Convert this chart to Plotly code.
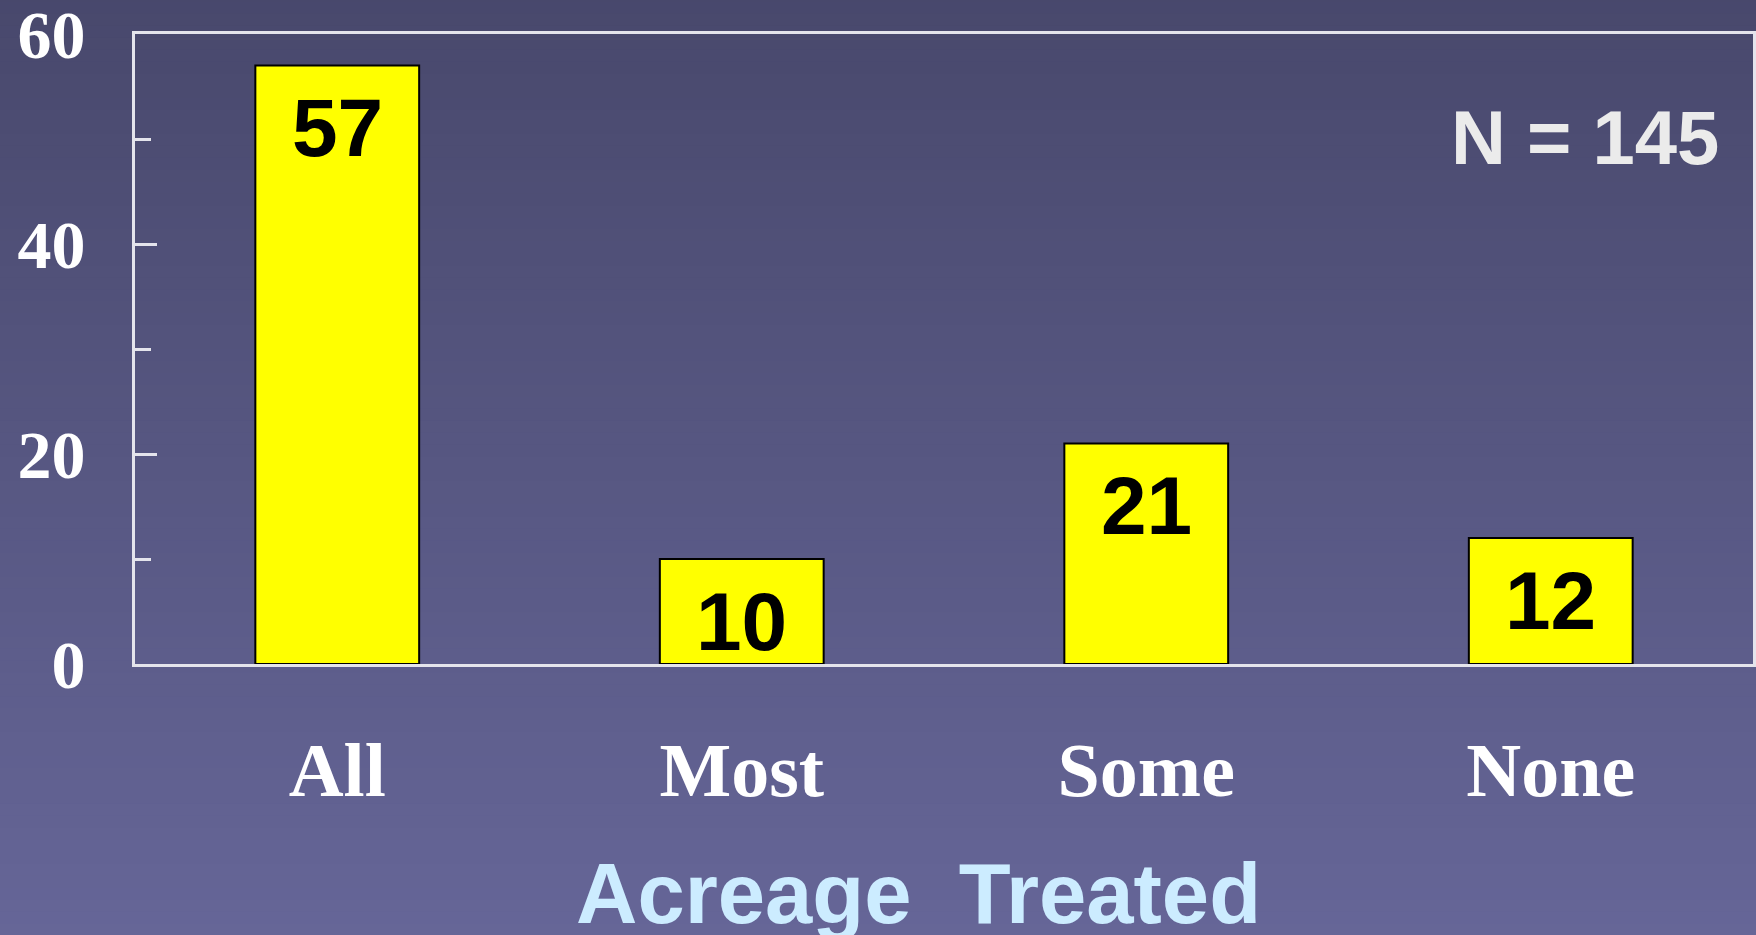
import plotly.graph_objects as go

categories = ["All", "Most", "Some", "None"]
counts = [57, 10, 21, 12]
y_ticks = [0, 20, 40, 60]
sample_note = "N = 145"
axis_title = "Acreage&nbsp;&nbsp;Treated"

fig = go.Figure()

fig.add_trace(go.Bar(
    x=categories,
    y=counts,
    marker=dict(color="#FFFF00", line=dict(color="#000000", width=2)),
    hoverinfo="x+y",
))

# value labels inside the bars
for cat, val in zip(categories, counts):
    fig.add_annotation(
        x=cat, y=val, xref="x", yref="y",
        text=f"<b>{val}</b>", showarrow=False,
        yanchor="middle", yshift=-62,
        font=dict(family="Liberation Sans, Arial", size=82, color="#000000"),
    )

fig.add_annotation(
    x=0.98, y=0.8365, xref="paper", yref="paper",
    text=f"<b>{sample_note}</b>", showarrow=False,
    xanchor="right", yanchor="middle",
    font=dict(family="Liberation Sans, Arial", size=76, color="#EBEBEB"),
)

fig.add_annotation(
    x=0.484, y=-0.365, xref="paper", yref="paper",
    text=f"<b>{axis_title}</b>", showarrow=False,
    xanchor="center", yanchor="middle",
    font=dict(family="Liberation Sans, Arial", size=85, color="#CCECFF"),
)

# vertical gradient background built from thin bands
top_rgb = (0x48, 0x48, 0x6C)
bot_rgb = (0x66, 0x66, 0x98)
n_bands = 80
y_lo, y_hi = -0.45, 1.07
for i in range(n_bands):
    t = i / (n_bands - 1)
    r, g, b = (round(bot_rgb[k] + (top_rgb[k] - bot_rgb[k]) * t) for k in range(3))
    y0 = y_lo + (y_hi - y_lo) * i / n_bands
    y1 = y_lo + (y_hi - y_lo) * (i + 1) / n_bands
    fig.add_shape(
        type="rect", xref="paper", yref="paper",
        x0=-0.1, x1=1.01, y0=y0, y1=y1 + 0.002,
        fillcolor=f"rgb({r},{g},{b})", line=dict(width=0), layer="below",
    )

axis_color = "#E4E4EC"

fig.update_layout(
    width=1756,
    height=935,
    margin=dict(l=135, r=3, t=34, b=271),
    paper_bgcolor="#58588A",
    plot_bgcolor="rgba(0,0,0,0)",
    showlegend=False,
    bargap=0.595,
    xaxis=dict(
        automargin=False,
        showgrid=False,
        showline=True, linecolor=axis_color, linewidth=3, mirror=True,
        ticks="",
        ticklabelstandoff=38,
        tickfont=dict(family="Liberation Serif, Times New Roman", size=76, color="#FFFFFF", weight="bold"),
    ),
    yaxis=dict(
        automargin=False,
        range=[0, 60],
        showgrid=False, zeroline=False,
        showline=True, linecolor=axis_color, linewidth=3, mirror=True,
        tickvals=y_ticks,
        ticks="inside", ticklen=22, tickwidth=3, tickcolor=axis_color,
        minor=dict(dtick=10, ticks="inside", ticklen=16, tickwidth=3, tickcolor=axis_color),
        ticklabelstandoff=33,
        ticklabeloverflow="allow",
        tickfont=dict(family="Liberation Serif, Times New Roman", size=68, color="#FFFFFF", weight="bold"),
    ),
)

fig.write_html(
    "out.html",
    config={"displayModeBar": False},
    post_script="document.body.style.margin='0px';",
)
